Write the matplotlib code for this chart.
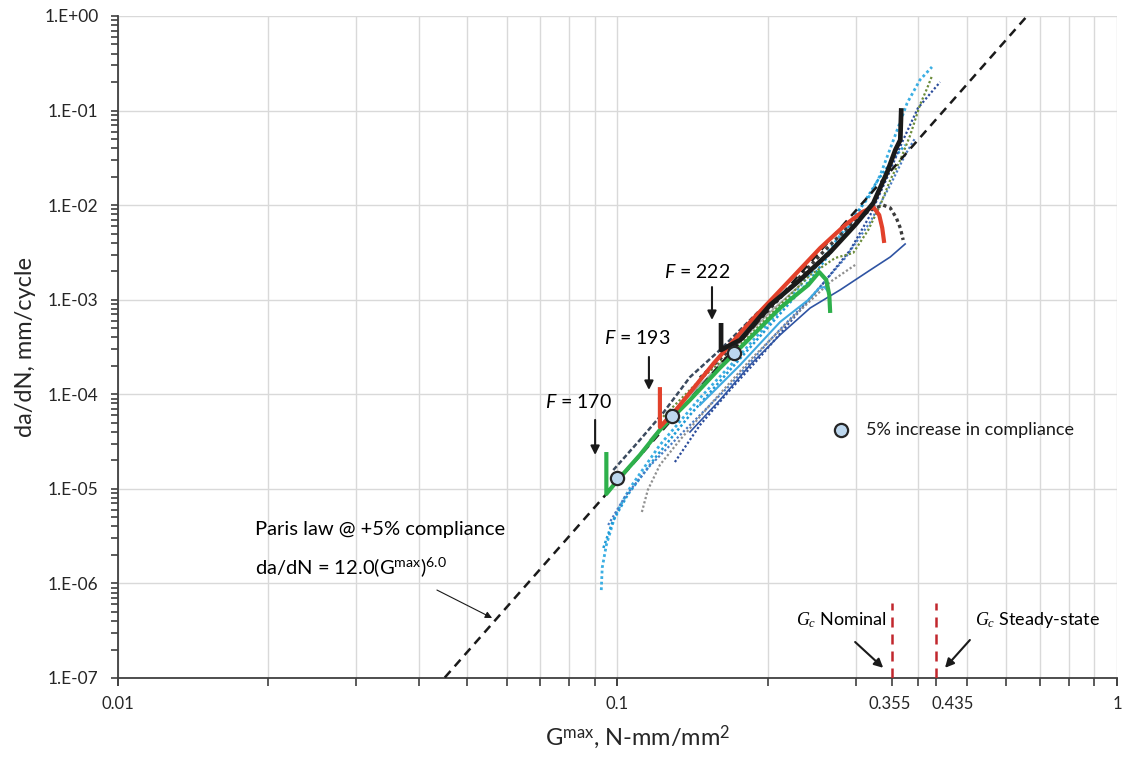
import numpy as np
import matplotlib
matplotlib.use("Agg")
import matplotlib.pyplot as plt
import matplotlib.ticker as mticker
import matplotlib.transforms as mtransforms

plt.rcParams['font.family'] = ['Lato', 'DejaVu Sans']
plt.rcParams['mathtext.fontset'] = 'custom'
plt.rcParams['mathtext.rm'] = 'Lato'
plt.rcParams['mathtext.it'] = 'Liberation Serif:italic'
plt.rcParams['mathtext.sf'] = 'Lato:italic'

# ---- data (G max in N-mm/mm2, da/dN in mm/cycle) ----
# light blue dotted, upper
lb1_G = [0.0928, 0.0932, 0.0950, 0.0990, 0.1059, 0.1216, 0.1463, 0.1760, 0.2116, 0.2546,
         0.2924, 0.3207, 0.3358, 0.3600, 0.3801, 0.4033, 0.4262]
lb1_da = [8.5e-7, 1.46e-6, 2.55e-6, 5.29e-6, 1.02e-5, 2.91e-5, 9.14e-5, 2.60e-4, 7.78e-4, 2.51e-3,
          6.64e-3, 1.28e-2, 2.08e-2, 5.52e-2, 0.120, 0.211, 0.289]
# light blue dotted, second
lb2_G = [0.0937, 0.0977, 0.1048, 0.1189, 0.1397, 0.1680, 0.2021, 0.2431, 0.2792, 0.3091,
         0.3324, 0.3551, 0.3766]
lb2_da = [2.37e-6, 4.46e-6, 8.61e-6, 2.12e-5, 6.04e-5, 1.81e-4, 5.40e-4, 1.62e-3, 4.28e-3, 1.00e-2,
          1.85e-2, 3.00e-2, 4.33e-2]
# navy dotted, lower edge
nvd_G = [0.1303, 0.1463, 0.1680, 0.1930, 0.2216, 0.2546, 0.2924, 0.3207, 0.3484, 0.3732, 0.3994, 0.4424]
nvd_da = [1.92e-5, 4.73e-5, 1.11e-4, 2.48e-4, 5.81e-4, 1.36e-3, 3.35e-3, 7.86e-3, 2.08e-2, 4.89e-2,
          0.106, 0.200]
# navy solid
nvs_G = [0.1397, 0.1604, 0.1843, 0.2116, 0.2431, 0.2792, 0.3207, 0.3517, 0.3766]
nvs_da = [3.99e-5, 8.70e-5, 2.04e-4, 4.24e-4, 8.17e-4, 1.27e-3, 2.06e-3, 2.83e-3, 3.88e-3]
# mid blue dotted
mb_G = [0.0958, 0.1034, 0.1161, 0.1397, 0.1680, 0.2021, 0.2431, 0.2857, 0.3207, 0.3517, 0.3766, 0.3945]
mb_da = [4.15e-6, 8.20e-6, 1.75e-5, 4.73e-5, 1.25e-4, 3.75e-4, 1.04e-3, 2.76e-3, 6.64e-3, 1.63e-2,
         3.39e-2, 5.13e-2]
# gray dotted, lower
gy_G = [0.1119, 0.1150, 0.1216, 0.1334, 0.1532, 0.1843, 0.2216, 0.2666, 0.2991]
gy_da = [5.69e-6, 9.72e-6, 1.79e-5, 3.29e-5, 7.71e-5, 2.30e-4, 6.10e-4, 1.54e-3, 2.33e-3]
# gray solid, upper
gs_G = [0.1161, 0.1334, 0.1532, 0.1760, 0.2021, 0.2321]
gs_da = [3.29e-5, 7.71e-5, 1.60e-4, 3.57e-4, 7.41e-4, 1.43e-3]
# dark slate, upper edge
ds_G = [0.0981, 0.1109, 0.1234, 0.1397, 0.1604, 0.1930]
ds_da = [1.58e-5, 3.29e-5, 6.34e-5, 1.52e-4, 2.94e-4, 7.78e-4]
# light blue solid with hook
lbs_G = [0.1463, 0.1760, 0.2116, 0.2409, 0.2534, 0.2596, 0.2643]
lbs_da = [7.71e-5, 2.04e-4, 5.81e-4, 9.93e-4, 1.33e-3, 1.36e-3, 1.21e-3]
# olive dotted
ol_G = [0.1216, 0.1463, 0.1760, 0.2116, 0.2431, 0.2727, 0.2964, 0.3177, 0.3358, 0.3517, 0.3683,
        0.3857, 0.4033, 0.4170, 0.4262]
ol_da = [5.35e-5, 1.42e-4, 3.32e-4, 8.79e-4, 1.82e-3, 2.76e-3, 3.12e-3, 5.46e-3, 1.00e-2, 1.85e-2,
         3.00e-2, 5.52e-2, 0.115, 0.173, 0.232]
# dark gray dotted with hook
dg_G = [0.1463, 0.1760, 0.2116, 0.2546, 0.2924, 0.3207, 0.3404, 0.3517, 0.3617, 0.3683, 0.3732]
dg_da = [1.49e-4, 3.75e-4, 1.04e-3, 2.97e-3, 6.17e-3, 8.89e-3, 1.00e-2, 9.33e-3, 7.31e-3, 5.73e-3, 4.28e-3]

# thick curves: F = 170 (green), F = 193 (red), F = 222 (black)
f170_G = [0.0950, 0.0950, 0.1009, 0.1109, 0.1216, 0.1397, 0.1604, 0.1843, 0.2116, 0.2409, 0.2534,
          0.2618, 0.2655, 0.2666]
f170_da = [2.45e-5, 8.83e-6, 1.30e-5, 2.28e-5, 4.19e-5, 8.70e-5, 1.90e-4, 3.94e-4, 8.17e-4, 1.43e-3,
           1.96e-3, 1.62e-3, 1.12e-3, 7.24e-4]
f193_G = [0.1216, 0.1216, 0.1309, 0.1560, 0.1843, 0.2216, 0.2546, 0.2857, 0.3091, 0.3252, 0.3342,
          0.3389, 0.3420]
f193_da = [1.19e-4, 4.51e-5, 6.82e-5, 2.14e-4, 5.81e-4, 1.62e-3, 3.52e-3, 6.17e-3, 8.46e-3, 9.55e-3,
           7.86e-3, 5.73e-3, 3.98e-3]
f222_G = [0.1612, 0.1612, 0.1760, 0.2021, 0.2321, 0.2666, 0.2991, 0.3252, 0.3468, 0.3600, 0.3683, 0.3700]
f222_da = [5.67e-4, 2.94e-4, 3.75e-4, 8.79e-4, 1.62e-3, 3.19e-3, 6.17e-3, 1.05e-2, 2.24e-2, 3.83e-2,
           4.89e-2, 0.106]

# 5% compliance increase points
comp_G = [0.100, 0.1285, 0.171]
comp_da = [1.30e-5, 5.9e-5, 2.73e-4]

# Paris law da/dN = 12.0 (Gmax)^6.0
paris_C = 12.0
paris_m = 6.0
paris_G = np.array([0.0451, 0.661])

Gc_values = [0.355, 0.435]

y_ticks = [1e-7, 1e-6, 1e-5, 1e-4, 1e-3, 1e-2, 1e-1, 1e0]
y_ticklabels = ['1.E-07', '1.E-06', '1.E-05', '1.E-04', '1.E-03', '1.E-02', '1.E-01', '1.E+00']
x_ticks = [0.01, 0.1, 0.355, 0.435, 1]
x_ticklabels = ['0.01', '0.1', '0.355', '0.435', '1']

fig = plt.figure(figsize=(11.27, 7.57), dpi=100)
ax = fig.add_axes([0.1047, 0.1044, 0.8864, 0.8745])
ax.set_xscale('log')
ax.set_yscale('log')
ax.set_xlim(0.01, 1)
ax.set_ylim(1e-7, 1)

# thin test curves
dot = (0, (1, 1))
ax.plot(lb1_G, lb1_da, color='#3AAEE3', lw=2.0, ls=dot, zorder=3)
ax.plot(lb2_G, lb2_da, color='#1E9AD6', lw=1.8, ls=dot, zorder=3)
ax.plot(mb_G, mb_da, color='#4A7CC4', lw=1.6, ls=dot, zorder=3)
ax.plot(nvd_G, nvd_da, color='#2B4C9B', lw=1.6, ls=dot, zorder=3)
ax.plot(gy_G, gy_da, color='#8F8F8F', lw=1.6, ls=dot, zorder=3)
ax.plot(gs_G, gs_da, color='#A6A6A6', lw=1.2, zorder=3)
ax.plot(ds_G, ds_da, color='#3B4A5E', lw=1.8, ls=(0, (2, 1)), zorder=3)
ax.plot(lbs_G, lbs_da, color='#3FA9E0', lw=1.5, zorder=3)
ax.plot(nvs_G, nvs_da, color='#2F54A3', lw=1.2, zorder=3)
ax.plot(ol_G, ol_da, color='#6B8C3A', lw=1.6, ls=dot, zorder=3)
ax.plot(dg_G, dg_da, color='#3C3C3C', lw=2.4, ls=dot, zorder=3)

# Paris law line
ax.plot(paris_G, paris_C * paris_G ** paris_m, color='#1a1a1a', lw=1.8, ls=(0, (3.5, 2.5)), zorder=4)

# thick curves
ax.plot(f170_G, f170_da, color='#2EB04B', lw=3.0, solid_capstyle='butt', zorder=5)
ax.plot(f193_G, f193_da, color='#E2412B', lw=3.0, solid_capstyle='butt', zorder=5)
ax.plot(f222_G, f222_da, color='#1A1A1A', lw=3.4, solid_capstyle='butt', zorder=5)

# 5% compliance markers
ax.plot(comp_G, comp_da, 'o', ms=9.5, mfc='#BDD7EE', mec='#262626', mew=1.6, ls='none', zorder=6)
ax.plot([0.7237], [0.3746], 'o', ms=9.5, mfc='#BDD7EE', mec='#262626', mew=1.6,
        transform=ax.transAxes, clip_on=False, zorder=6)
ax.text(0.749, 0.3746, '5% increase in compliance', transform=ax.transAxes,
        fontsize=13, va='center', ha='left', color='#1a1a1a')

# Gc lines
ax.vlines(Gc_values, 1e-7, 6.2e-7, colors='#C1272D', lw=1.8, linestyles=(0, (4, 2.8)), zorder=4)

arrow_kw = dict(arrowstyle='-|>', color='#1a1a1a', lw=1.5, mutation_scale=13, shrinkA=0, shrinkB=0)
ax.annotate('', xy=(0.0902, 2.28e-5), xytext=(0.0902, 5.35e-5), arrowprops=arrow_kw)
ax.text(0.0834, 8.28e-5, r'$\mathsf{F}$ = 170', fontsize=14, ha='center', va='center')
ax.annotate('', xy=(0.1156, 1.11e-4), xytext=(0.1156, 2.48e-4), arrowprops=arrow_kw)
ax.text(0.1093, 3.94e-4, r'$\mathsf{F}$ = 193', fontsize=14, ha='center', va='center')
ax.annotate('', xy=(0.1546, 6.10e-4), xytext=(0.1546, 1.36e-3), arrowprops=arrow_kw)
ax.text(0.1443, 1.96e-3, r'$\mathsf{F}$ = 222', fontsize=14, ha='center', va='center')

ax.text(0.0188, 3.67e-6, 'Paris law @ +5% compliance', fontsize=14.5, ha='left', va='center')
ax.text(0.0188, 1.49e-6, r'da/dN = 12.0(G$^{\mathrm{max}}$)$^{6.0}$', fontsize=14.5, ha='left', va='center')
ax.annotate('', xy=(0.0561, 4.31e-7), xytext=(0.0435, 8.51e-7),
            arrowprops=dict(arrowstyle='-|>', color='#1a1a1a', lw=0.8, mutation_scale=10,
                            shrinkA=0, shrinkB=0))

ax.text(0.3463, 4.10e-7, r'$G_c$ Nominal', fontsize=13, ha='right', va='center')
ax.annotate('', xy=(0.3404, 1.28e-7), xytext=(0.2991, 2.40e-7), arrowprops=arrow_kw)
ax.text(0.5196, 4.10e-7, r'$G_c$ Steady-state', fontsize=13, ha='left', va='center')
ax.annotate('', xy=(0.4526, 1.28e-7), xytext=(0.5076, 2.52e-7), arrowprops=arrow_kw)

# axes, ticks, grid
ax.set_yticks(y_ticks)
ax.set_yticklabels(y_ticklabels)
ax.yaxis.set_minor_locator(mticker.LogLocator(base=10, subs=np.arange(2, 10), numticks=20))
ax.yaxis.set_minor_formatter(mticker.NullFormatter())
ax.set_xticks(x_ticks)
ax.set_xticklabels(x_ticklabels)
ax.xaxis.set_minor_locator(mticker.LogLocator(base=10, subs=np.arange(1, 10), numticks=20))
ax.xaxis.set_minor_formatter(mticker.NullFormatter())
ax.xaxis.remove_overlapping_locs = False

ax.grid(False)
ax.grid(True, which='major', axis='y', color='#D9D9D9', lw=1.0, zorder=0)
ax.grid(True, which='minor', axis='x', color='#D9D9D9', lw=1.0, zorder=0)
ax.set_axisbelow(True)

for s in ['top', 'right']:
    ax.spines[s].set_visible(False)
for s in ['left', 'bottom']:
    ax.spines[s].set_color('#404040')
    ax.spines[s].set_linewidth(1.3)

ax.tick_params(axis='both', which='both', direction='out', color='#404040', width=1.2,
               labelsize=12.5, labelcolor='#262626')
ax.tick_params(axis='y', which='both', length=5, pad=9)
ax.tick_params(axis='x', which='both', length=6, pad=7)
ax.tick_params(axis='x', which='major', labelsize=12)

# shift the two Gc tick labels apart as in the original
xlabels = ax.get_xticklabels()
xlabels[2].set_transform(xlabels[2].get_transform() +
                         mtransforms.ScaledTranslation(-3 / 100, 0, fig.dpi_scale_trans))
xlabels[3].set_transform(xlabels[3].get_transform() +
                         mtransforms.ScaledTranslation(16 / 100, 0, fig.dpi_scale_trans))

ax.set_ylabel('da/dN, mm/cycle', fontsize=17, color='#262626', labelpad=6)
ax.set_xlabel(r'G$^{\mathrm{max}}$, N-mm/mm$^2$', fontsize=17, color='#262626')
ax.xaxis.set_label_coords(0.52, -0.07)

fig.savefig('out.png', dpi=100)
